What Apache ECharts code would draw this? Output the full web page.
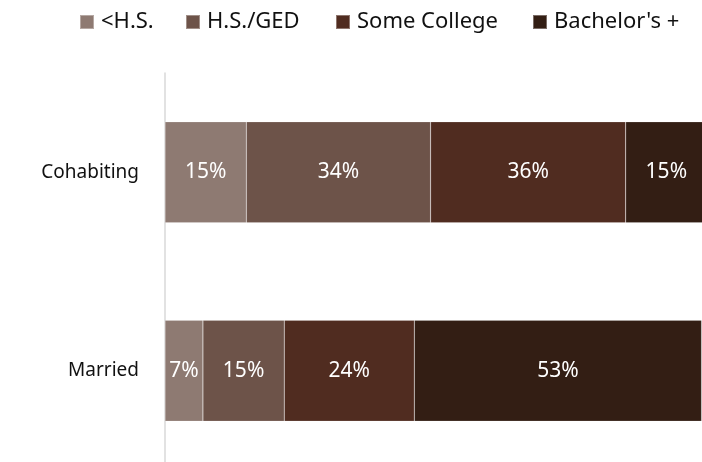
<!DOCTYPE html>
<html>
<head>
<meta charset="utf-8">
<script src="https://cdn.jsdelivr.net/npm/echarts@6/dist/echarts.min.js"></script>
<style>
  html, body { margin: 0; padding: 0; background: #fff; }
  #chart { width: 702px; height: 462px; }
</style>
</head>
<body>
<div id="chart"></div>
<script>
// categories bottom -> top (category axis on y)
const categories = ['Married', 'Cohabiting']
const seriesNames = ['<H.S.', 'H.S./GED', 'Some College', "Bachelor's +"]
const lessHS = [7, 15]
const hsGed = [15, 34]
const someCollege = [24, 36]
const bachelors = [53, 15]
const colors = ['#8E7A72', '#6D5349', '#502C20', '#331E14']

const chart = echarts.init(document.getElementById('chart'))
const values = [lessHS, hsGed, someCollege, bachelors]
const legendLeft = [74, 180, 330, 527]

const series = seriesNames.map((name, i) => ({
  name: name,
  type: 'bar',
  stack: 'total',
  barWidth: 101,
  data: values[i],
  itemStyle: {
    color: colors[i],
    borderColor: 'rgba(255,255,255,0.35)',
    borderWidth: 0.5
  },
  label: {
    show: true,
    position: 'inside',
    formatter: '{c}%',
    color: '#fff',
    fontFamily: 'Noto Sans',
    fontSize: 21
  }
}))

// one legend per item so each sits where the original has it
const legends = seriesNames.map((name, i) => ({
  left: legendLeft[i],
  top: 6,
  itemWidth: 14,
  itemHeight: 14,
  icon: 'rect',
  textStyle: {
    color: '#111',
    fontFamily: 'Noto Sans',
    fontSize: 22,
    padding: [0, 0, 0, 2]
  },
  data: [name]
}))

chart.setOption({
  animation: false,
  legend: legends,
  grid: {
    left: 165,
    right: -5,
    top: 73,
    height: 397,
    outerBoundsMode: 'none'
  },
  xAxis: {
    type: 'value',
    min: 0,
    max: 100,
    show: false
  },
  yAxis: {
    type: 'category',
    data: categories,
    axisLine: {
      lineStyle: { color: '#d9d9d9', width: 1.5 }
    },
    axisTick: { show: false },
    axisLabel: {
      color: '#111',
      fontFamily: 'Noto Sans',
      fontSize: 19,
      margin: 26
    }
  },
  series: series
})
</script>
</body>
</html>
